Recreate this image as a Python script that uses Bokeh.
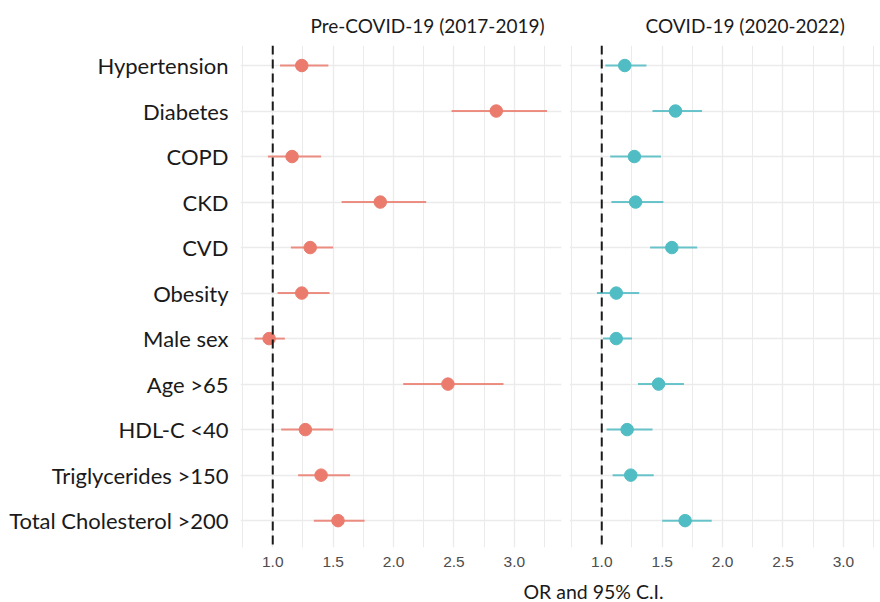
from bokeh.plotting import figure
from bokeh.layouts import row, column
from bokeh.models import Range1d, FixedTicker, Span, Label, Title
from bokeh.embed import file_html
from bokeh.resources import INLINE

categories = ["Hypertension", "Diabetes", "COPD", "CKD", "CVD", "Obesity",
              "Male sex", "Age >65", "HDL-C <40", "Triglycerides >150",
              "Total Cholesterol >200"]

pre_or =    [1.24, 2.85, 1.16, 1.89, 1.31, 1.24, 0.97, 2.45, 1.27, 1.40, 1.54]
pre_lo =    [1.06, 2.48, 0.96, 1.57, 1.15, 1.04, 0.85, 2.08, 1.07, 1.21, 1.34]
pre_hi =    [1.46, 3.27, 1.40, 2.27, 1.50, 1.47, 1.10, 2.91, 1.50, 1.64, 1.76]

cov_or =    [1.19, 1.61, 1.27, 1.28, 1.58, 1.12, 1.12, 1.47, 1.21, 1.24, 1.69]
cov_lo =    [1.03, 1.42, 1.07, 1.08, 1.40, 0.96, 1.01, 1.30, 1.04, 1.09, 1.50]
cov_hi =    [1.37, 1.83, 1.49, 1.51, 1.79, 1.31, 1.25, 1.68, 1.42, 1.43, 1.91]

x_ticks = [1.0, 1.5, 2.0, 2.5, 3.0]
x_minor = [0.75, 1.25, 1.75, 2.25, 2.75, 3.25]
x_tick_labels = ["1.0", "1.5", "2.0", "2.5", "3.0"]

panel_titles = ["Pre-COVID-19 (2017-2019)", "COVID-19 (2020-2022)"]
x_title = "OR and 95% C.I."

n = len(categories)
ypos = [n - i for i in range(n)]
GRID = "#EBEBEB"
FONT = "Lato"


def make_panel(title, title_offset, orv, lo, hi, color, width, left_border, right_border, x_end, show_y):
    p = figure(width=width, height=570, output_backend="svg", toolbar_location=None,
               title_location=None,
               x_range=Range1d(0.733, x_end), y_range=Range1d(0.41, 11.44),
               min_border_left=left_border, min_border_right=right_border,
               min_border_top=45, min_border_bottom=23)
    p.outline_line_color = None
    p.background_fill_color = "white"
    # spacer between panel and strip title, then the strip title itself
    p.add_layout(Title(text=" ", text_font_size="2px", standoff=0), "above")
    p.add_layout(Title(text=title, align="left", offset=title_offset, text_font=FONT,
                       text_font_size="19px", text_font_style="normal",
                       text_color="#1A1A1A"), "above")

    p.xaxis.ticker = FixedTicker(ticks=x_ticks, minor_ticks=x_minor)
    p.xaxis.major_label_overrides = {t: l for t, l in zip(x_ticks, x_tick_labels)}
    p.xaxis.axis_line_color = None
    p.xaxis.major_tick_line_color = None
    p.xaxis.minor_tick_line_color = None
    p.xaxis.major_label_text_font = "Liberation Sans"
    p.xaxis.major_label_text_font_size = "15.5px"
    p.xaxis.major_label_text_color = "#4D4D4D"
    p.xaxis.major_label_standoff = 3

    p.yaxis.ticker = FixedTicker(ticks=ypos)
    p.yaxis.major_label_overrides = {y: c for y, c in zip(ypos, categories)}
    p.yaxis.axis_line_color = None
    p.yaxis.major_tick_line_color = None
    p.yaxis.minor_tick_line_color = None
    p.yaxis.major_label_text_font = FONT
    p.yaxis.major_label_text_font_size = "22px"
    p.yaxis.major_label_text_color = "#1A1A1A"
    p.yaxis.major_label_standoff = 6
    if not show_y:
        p.yaxis.visible = False

    p.xgrid.ticker = FixedTicker(ticks=x_ticks, minor_ticks=x_minor)
    p.xgrid.grid_line_color = GRID
    p.xgrid.grid_line_width = 1.3
    p.xgrid.minor_grid_line_color = GRID
    p.xgrid.minor_grid_line_width = 1.0
    p.ygrid.ticker = FixedTicker(ticks=ypos)
    p.ygrid.grid_line_color = GRID
    p.ygrid.grid_line_width = 1.3

    p.segment(x0=lo, y0=ypos, x1=hi, y1=ypos, line_color=color, line_width=2, line_alpha=0.85)
    p.scatter(x=orv, y=ypos, size=12.5, fill_color=color, line_color=color)
    p.add_layout(Span(location=1.0, dimension="height", line_color="#1A1A1A",
                      line_width=2, line_dash="9 5"))
    return p


p1 = make_panel(panel_titles[0], 70, pre_or, pre_lo, pre_hi, "#EA7B6D", 565, 240, 4, 3.39, True)
p2 = make_panel(panel_titles[1], 76, cov_or, cov_lo, cov_hi, "#50BCC3", 315, 4, 0, 3.307, False)

# strip holding the shared x-axis title
p3 = figure(width=880, height=32, output_backend="svg", toolbar_location=None,
            x_range=Range1d(0, 880), y_range=Range1d(0, 32), min_border=0)
p3.axis.visible = False
p3.grid.visible = False
p3.outline_line_color = None
p3.add_layout(Label(x=593, y=11, text=x_title, text_align="center",
                    text_baseline="middle", text_font=FONT, text_font_size="19.5px",
                    text_color="#1A1A1A"))

layout = column(row(p1, p2), p3)
open("out.html", "w").write(file_html(layout, INLINE))
